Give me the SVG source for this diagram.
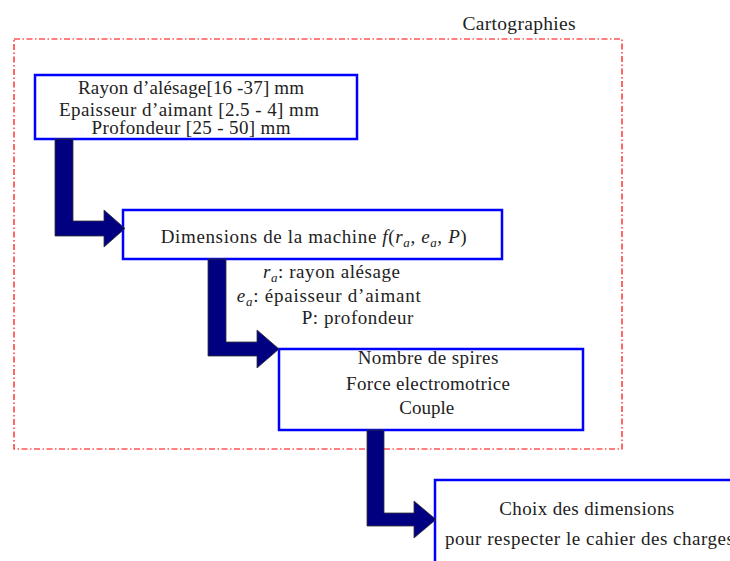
<svg xmlns="http://www.w3.org/2000/svg" width="730" height="561" viewBox="0 0 730 561">
<style>
text{font-family:"Liberation Serif","Times New Roman",serif;font-size:19px;fill:#222;text-anchor:middle}
.box{fill:#fff;stroke:#0000ff;stroke-width:2.5}
.arr{fill:#000080;stroke:#333;stroke-width:0.8;stroke-linejoin:miter}
.m{font-style:italic}
.s{font-size:13px;font-style:italic}
</style>
<rect width="730" height="561" fill="#fff"/>
<g id="cartographies">
<rect x="14" y="39" width="608" height="410" fill="none" stroke="#ff0000" stroke-width="1.2" stroke-dasharray="6 2.5 1.5 2.5"/>
<text x="519" y="30" textLength="113" style="font-size:19.5px">Cartographies</text>
</g>
<g id="node-plages">
<rect class="box" x="35" y="75" width="322" height="64"/>
<text x="191" y="94" textLength="226">Rayon d’alésage[16 -37] mm</text>
<text x="189" y="115.5" textLength="260">Epaisseur d’aimant [2.5 - 4] mm</text>
<text x="191" y="134" textLength="199">Profondeur [25 - 50] mm</text>
</g>
<g id="node-dimensions">
<rect class="box" x="123" y="210" width="379" height="49"/>
<text x="313.7" y="243" textLength="306">Dimensions de la machine <tspan class="m">f</tspan>(<tspan class="m">r</tspan><tspan class="s" dy="4">a</tspan><tspan dy="-4">, </tspan><tspan class="m">e</tspan><tspan class="s" dy="4">a</tspan><tspan dy="-4">, </tspan><tspan class="m">P</tspan>)</text>
</g>
<g id="legend">
<text x="331.5" y="278" textLength="137"><tspan class="m">r</tspan><tspan class="s" dy="4">a</tspan><tspan dy="-4">: rayon alésage</tspan></text>
<text x="328.7" y="301.5" textLength="184"><tspan class="m">e</tspan><tspan class="s" dy="4">a</tspan><tspan dy="-4">: épaisseur d’aimant</tspan></text>
<text x="357.5" y="323.5" textLength="111.6">P: profondeur</text>
</g>
<g id="node-resultats">
<rect class="box" x="279" y="349" width="304" height="81"/>
<text x="428" y="363.5" textLength="140.6">Nombre de spires</text>
<text x="428" y="390" textLength="164">Force electromotrice</text>
<text x="426.7" y="413.5" textLength="55">Couple</text>
</g>
<g id="node-choix">
<rect class="box" x="435" y="480" width="320" height="100"/>
<text x="586.7" y="515" textLength="175">Choix des dimensions</text>
<text x="445" y="545" textLength="289" style="text-anchor:start">pour respecter le cahier des charges</text>
</g>
<g id="connectors">
<polygon class="arr" points="55,139 73,139 73,221 104,221 104,210 125,228.5 104,247 104,236 55,236"/>
<polygon class="arr" points="208,259 226,259 226,342 257,342 257,330 279,349 257,368 257,356 208,356"/>
<polygon class="arr" points="367,430 384,430 384,513 414,513 414,501 436,519.5 414,538 414,526 367,526"/>
</g>
</svg>
